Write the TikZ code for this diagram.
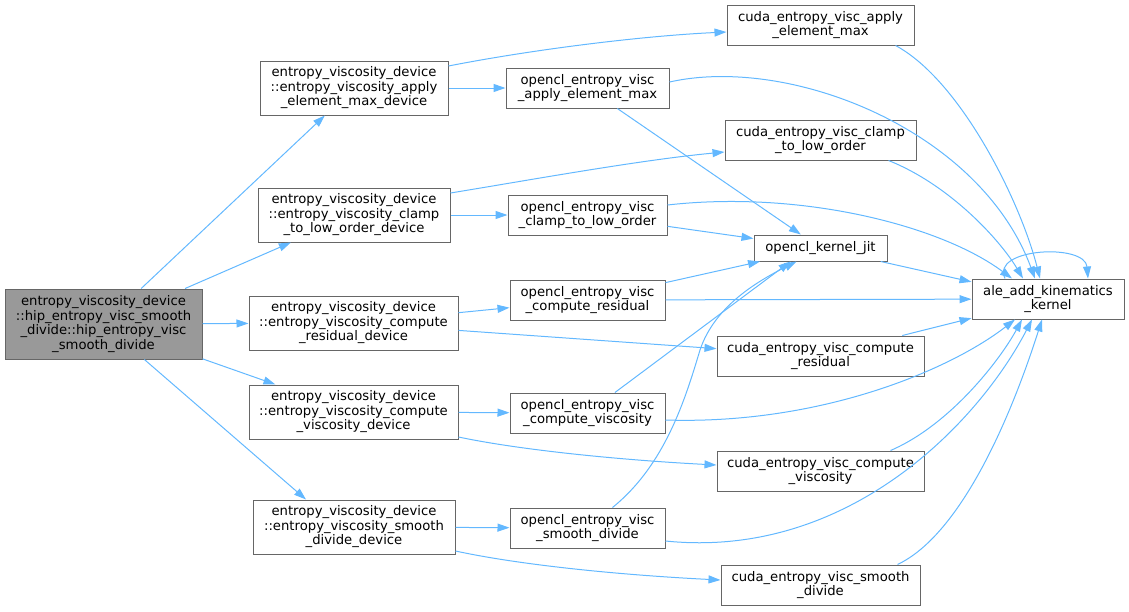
\documentclass[tikz,border=0pt]{standalone}
\usepackage{fontspec}
\setmainfont{DejaVu Sans}
\usetikzlibrary{arrows.meta, calc}
\definecolor{callblue}{HTML}{63B8FF}

\begin{document}
\begin{tikzpicture}[x=0.75pt, y=-0.75pt, >={Triangle[length=9pt, width=6pt]},
  every node/.style={font=\fontsize{9.9pt}{10.9pt}\selectfont, align=center, inner sep=0pt},
  fn/.style={draw=black!60, line width=0.75pt, fill=white},
  root/.style={fn, fill=black!40},
  boxsize/.style 2 args={minimum width=#1*0.75pt, minimum height=#2*0.75pt},
  call/.style={->, draw=callblue, line width=0.75pt}]
    \useasboundingbox (0,0) rectangle (1129,611);

    % caller
    \node[root, boxsize={197}{70}] (root) at (103.5,324) {entropy\_viscosity\_device\\::hip\_entropy\_visc\_smooth\\\_divide::hip\_entropy\_visc\\\_smooth\_divide};

    % device wrappers
    \node[fn, boxsize={188}{54}] (A) at (354,88) {entropy\_viscosity\_device\\::entropy\_viscosity\_apply\\\_element\_max\_device};
    \node[fn, boxsize={192}{54}] (B) at (354,215) {entropy\_viscosity\_device\\::entropy\_viscosity\_clamp\\\_to\_low\_order\_device};
    \node[fn, boxsize={209}{54}] (C) at (353.5,323) {entropy\_viscosity\_device\\::entropy\_viscosity\_compute\\\_residual\_device};
    \node[fn, boxsize={209}{54}] (D) at (353.5,412) {entropy\_viscosity\_device\\::entropy\_viscosity\_compute\\\_viscosity\_device};
    \node[fn, boxsize={202}{54}] (E) at (354,527) {entropy\_viscosity\_device\\::entropy\_viscosity\_smooth\\\_divide\_device};

    % opencl backends
    \node[fn, boxsize={163}{40}] (oA) at (587.5,88) {opencl\_entropy\_visc\\\_apply\_element\_max};
    \node[fn, boxsize={159}{40}] (oB) at (587.5,215) {opencl\_entropy\_visc\\\_clamp\_to\_low\_order};
    \node[fn, boxsize={155}{40}] (oC) at (587.5,300) {opencl\_entropy\_visc\\\_compute\_residual};
    \node[fn, boxsize={155}{40}] (oD) at (587.5,413) {opencl\_entropy\_visc\\\_compute\_viscosity};
    \node[fn, boxsize={155}{40}] (oE) at (587.5,528) {opencl\_entropy\_visc\\\_smooth\_divide};

    % cuda backends
    \node[fn, boxsize={187}{40}] (cA) at (820.5,25) {cuda\_entropy\_visc\_apply\\\_element\_max};
    \node[fn, boxsize={191}{40}] (cB) at (820.5,140) {cuda\_entropy\_visc\_clamp\\\_to\_low\_order};
    \node[fn, boxsize={133}{26}] (jit) at (820.5,248) {opencl\_kernel\_jit};
    \node[fn, boxsize={207}{40}] (cC) at (820.5,356) {cuda\_entropy\_visc\_compute\\\_residual};
    \node[fn, boxsize={207}{40}] (cD) at (820.5,471) {cuda\_entropy\_visc\_compute\\\_viscosity};
    \node[fn, boxsize={199}{40}] (cE) at (820.5,585) {cuda\_entropy\_visc\_smooth\\\_divide};

    \node[fn, boxsize={152}{40}] (ale) at (1048,299) {ale\_add\_kinematics\\\_kernel};

    % root calls
    \draw[call] (root) -- (A);
    \draw[call] (root) -- (B);
    \draw[call] (root) -- (C);
    \draw[call] (root) -- (D);
    \draw[call] (root) -- ($(E.north)+(-48,0)$);

    % wrapper calls
    \draw[call] (A) -- (oA);
    \draw[call] ($(A.east)+(0,-22)$) .. controls (530,50) and (640,36) .. ($(cA.west)+(0,7)$);
    \draw[call] (B) -- (oB);
    \draw[call] ($(B.east)+(0,-22)$) .. controls (530,180) and (640,160) .. ($(cB.west)+(0,12)$);
    \draw[call] (C) -- (oC);
    \draw[call] (C) -- (cC);
    \draw[call] (D) -- (oD);
    \draw[call] ($(D.east)+(0,25)$) .. controls (520,450) and (620,460) .. ($(cD.west)+(0,-6)$);
    \draw[call] (E) -- (oE);
    \draw[call] ($(E.east)+(0,24)$) .. controls (520,565) and (620,575) .. ($(cE.west)+(0,-5)$);

    % opencl -> jit
    \draw[call] (oA) -- (jit);
    \draw[call] (oB) -- (jit);
    \draw[call] (oC) -- (jit);
    \draw[call] (oD) -- ($(jit.south)+(-30,0)$);
    \draw[call] ($(oE.north)+(25,0)$) .. controls (665,465) and (685,400) .. (700,350)
        .. controls (715,305) and (760,280) .. ($(jit.south)+(-24,0)$);

    % everything -> ale
    \draw[call] ($(oA.east)+(0,-6)$) .. controls (790,55) and (980,130) .. ($(ale.north)+(-13,0)$);
    \draw[call] ($(cA.south)+(75,0)$) .. controls (960,80) and (1020,200) .. ($(ale.north)+(-8,0)$);
    \draw[call] ($(cB.south)+(68,0)$) .. controls (950,185) and (1000,240) .. ($(ale.north)+(-25,0)$);
    \draw[call] ($(oB.east)+(0,-10)$) .. controls (800,190) and (940,225) .. ($(ale.north)+(-36,0)$);
    \draw[call] (jit) -- (ale);
    \draw[call] (oC) -- (ale);
    \draw[call] (cC) -- (ale);
    \draw[call] ($(oD.east)+(0,7)$) .. controls (820,425) and (950,370) .. ($(ale.south)+(-33,0)$);
    \draw[call] ($(cD.north)+(70,0)$) .. controls (950,425) and (1000,360) .. ($(ale.south)+(-26,0)$);
    \draw[call] ($(oE.east)+(0,13)$) .. controls (850,560) and (980,420) .. ($(ale.south)+(-16,0)$);
    \draw[call] ($(cE.north)+(77,0)$) .. controls (960,535) and (1010,420) .. ($(ale.south)+(-6,0)$);
    \draw[call] ($(ale.north)+(-43,0)$) .. controls (990,248) and (1085,243) .. ($(ale.north)+(40,0)$);
\end{tikzpicture}
\end{document}
